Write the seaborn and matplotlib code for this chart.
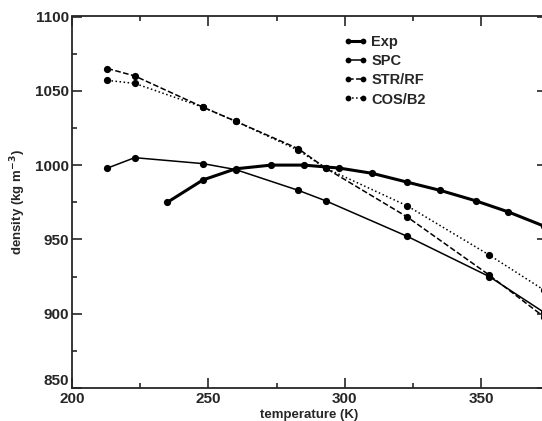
import numpy as np
import pandas as pd
import seaborn as sns
import matplotlib as mpl
mpl.use("Agg")
import matplotlib.pyplot as plt
from matplotlib.ticker import MultipleLocator

# data
t_exp = [235, 248, 260, 273, 285, 298, 310, 323, 335, 348, 360, 373]
rho_exp = [975, 990, 997.5, 1000, 1000, 998, 994.5, 988.5, 983, 976, 968.5, 959]

t_sim = [213, 223, 248, 260, 283, 293, 323, 353, 373]
rho_spc = [998, 1005, 1001, 997, 983, 976, 952, 925, 901]
rho_str = [1065, 1060, 1039, 1029.5, 1011, 998, 965, 926, 898]
rho_cos = [1057, 1055, 1039, 1029.5, 1010, 998, 972.5, 939.5, 916]

xticks = [200, 250, 300, 350]
yticks = [850, 900, 950, 1000, 1050, 1100]

sns.set_style("ticks")
plt.rcParams['font.family'] = ['Liberation Sans', 'DejaVu Sans']
plt.rcParams['font.weight'] = 'bold'

fig = plt.figure(figsize=(5.42, 4.21), dpi=100)
ax = fig.add_axes([72 / 542, 33 / 421, 474.5 / 542, 371.5 / 421])

series = [
    ('Exp', t_exp, rho_exp, '-', 2.2),
    ('SPC', t_sim, rho_spc, '-', 1.1),
    ('STR/RF', t_sim, rho_str, '--', 1.1),
    ('COS/B2', t_sim, rho_cos, ':', 1.1),
]
for name, t, rho, ls, lw in series:
    df = pd.DataFrame({'T': t, 'rho': rho})
    sns.lineplot(x='T', y='rho', data=df, ax=ax, color='black', linestyle=ls, lw=lw,
                 marker='o', markersize=5.2, markeredgewidth=0, label=name)

ax.set(xlim=(200, 374), ylim=(850, 1100))
ax.set_xticks(xticks)
ax.set_yticks(yticks)
ax.xaxis.set_minor_locator(MultipleLocator(25))
ax.yaxis.set_minor_locator(MultipleLocator(25))
ax.tick_params(which='both', direction='in', top=True, right=True, width=1.2, labelsize=11)
ax.tick_params(which='major', length=7.5)
ax.tick_params(axis='y', which='major', pad=2)
ax.tick_params(axis='x', which='major', pad=3)
ax.tick_params(which='minor', length=3.5)
for s in ax.spines.values():
    s.set_linewidth(1.3)
    s.set_visible(True)
for lab in ax.get_xticklabels() + ax.get_yticklabels():
    lab.set_fontweight('bold')

# "850" sits just above "200" in the corner, as in the original
ax.yaxis.get_major_ticks()[0].label1.set_verticalalignment('bottom')

ax.set_xlabel('temperature (K)', fontsize=9.5, fontweight='bold', labelpad=2)
ax.set_ylabel(r'density (kg m$^{\mathbf{-3}}$)', fontsize=9.5, fontweight='bold', labelpad=5)

leg = ax.legend(loc='upper left', bbox_to_anchor=(0.545, 0.985), frameon=False, numpoints=2,
                handlelength=1.6, handletextpad=0.3, labelspacing=0.35, markerscale=0.8,
                prop={'weight': 'bold', 'size': 10.5})

fig.savefig('out.png', dpi=100)
